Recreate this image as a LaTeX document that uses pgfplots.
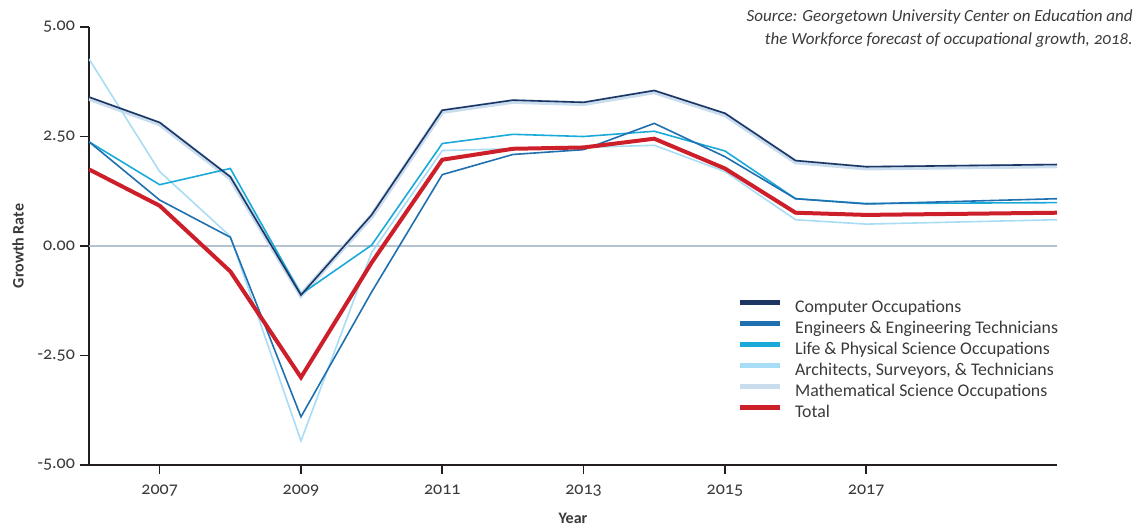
\documentclass[border=0pt]{standalone}
\usepackage{pgfplots}
\pgfplotsset{compat=1.18}
\usepackage{pgfplotstable}
\usepackage{fontspec}
\setmainfont{Carlito}[Numbers=OldStyle]

\definecolor{compcol}{HTML}{1C3563}
\definecolor{engcol}{HTML}{2070B0}
\definecolor{lifecol}{HTML}{1AAAD9}
\definecolor{archcol}{HTML}{A8DDF5}
\definecolor{mathcol}{HTML}{C9DDEE}
\definecolor{totcol}{HTML}{CC1F2A}
\definecolor{zerocol}{HTML}{B4C3CF}
\definecolor{axiscol}{HTML}{231F20}
\definecolor{txtcol}{HTML}{3A3A3A}

% growth rates
\pgfplotstableread{
year   comp  eng   life  arch  math  total
2006   3.40  2.38  2.38  4.27  3.37  1.75
2007   2.82  1.05  1.40  1.70  2.79  0.92
2008   1.58  0.20  1.77  0.22  1.55  -0.58
2009   -1.12 -3.90 -1.10 -4.45 -1.12 -3.00
2010   0.71  -1.05 0.02  -0.15 0.68  -0.38
2011   3.10  1.63  2.34  2.18  3.07  1.97
2012   3.33  2.09  2.55  2.22  3.30  2.22
2013   3.28  2.20  2.50  2.25  3.25  2.25
2014   3.55  2.80  2.62  2.30  3.52  2.45
2015   3.03  2.04  2.17  1.70  3.00  1.77
2016   1.95  1.08  1.08  0.60  1.92  0.76
2017   1.81  0.96  0.97  0.50  1.78  0.71
2019.7 1.86  1.08  0.99  0.60  1.83  0.76
}\growth

\begin{document}
\begin{tikzpicture}
\begin{axis}[
    at={(0,0)}, anchor=south west,
    scale only axis,
    width=484pt, height=219pt,
    xmin=2006, xmax=2019.7,
    ymin=-5, ymax=5,
    axis x line*=bottom,
    axis y line*=left,
    axis line style={-, line width=1.1pt, color=axiscol},
    xtick={2007,2009,...,2017},
    ytick={-5,-2.5,0,2.5,5},
    tick align=outside,
    major tick length=4.5pt,
    tick style={line width=0.8pt, color=axiscol},
    /pgf/number format/assume math mode=true,
    x tick label style={/pgf/number format/set thousands separator={}, font=\fontsize{9}{10}\selectfont, text=txtcol},
    xticklabel shift=2pt,
    y tick label style={/pgf/number format/fixed, /pgf/number format/fixed zerofill, /pgf/number format/precision=2, font=\fontsize{9}{10}\selectfont, text=txtcol},
    yticklabel shift=-1pt,
    extra y ticks={0},
    extra y tick labels={},
    extra y tick style={grid=major, major grid style={line width=1pt, color=zerocol}, major tick length=0pt},
    xlabel={Year},
    ylabel={Growth Rate},
    xlabel style={at={(axis description cs:0.5,-0.121)}, anchor=center, font=\bfseries\fontsize{8}{9}\selectfont, text=txtcol},
    ylabel style={at={(axis description cs:-0.0733,0.5)}, anchor=center, font=\bfseries\fontsize{8}{9}\selectfont, text=txtcol},
    legend style={at={(axis description cs:0.6695,0.381)}, anchor=north west, draw=none, fill=none,
        inner sep=0pt, row sep=1.5pt, font=\fontsize{8.9}{10}\selectfont, text=txtcol,
        nodes={inner sep=0pt, text height=7pt, text depth=2pt}},
    legend cell align=left,
    legend image code/.code={\draw[#1, line width=2.2pt] (0pt,2.5pt) -- (20pt,2.5pt);
        \path (27.5pt,2.5pt);},
]
% mathematical science sits right under the computer line
\addplot[mathcol, line width=2.4pt, forget plot] table[x=year, y=math] {\growth};
\addplot[archcol, line width=0.8pt, forget plot] table[x=year, y=arch] {\growth};
\addplot[lifecol, line width=0.8pt, forget plot] table[x=year, y=life] {\growth};
\addplot[engcol, line width=0.8pt, forget plot] table[x=year, y=eng] {\growth};
\addplot[compcol, line width=0.8pt, forget plot] table[x=year, y=comp] {\growth};
\addplot[totcol, line width=2pt, forget plot] table[x=year, y=total] {\growth};

\addlegendimage{compcol}
\addlegendentry{Computer Occupations}
\addlegendimage{engcol}
\addlegendentry{Engineers \& Engineering Technicians}
\addlegendimage{lifecol}
\addlegendentry{Life \& Physical Science Occupations}
\addlegendimage{archcol}
\addlegendentry{Architects, Surveyors, \& Technicians}
\addlegendimage{mathcol}
\addlegendentry{Mathematical Science Occupations}
\addlegendimage{totcol}
\addlegendentry{Total}
\end{axis}
\node[anchor=north east, align=right, inner sep=0pt, text=txtcol,
      font=\itshape\fontsize{8.5}{11.5}\selectfont] at (522pt,228pt)
    {Source: Georgetown University Center on Education and\\
     the Workforce forecast of occupational growth, 2018.};
\pgfresetboundingbox
\path[use as bounding box] (-44.5pt,-31pt) rectangle (526.5pt,232.5pt);
\end{tikzpicture}
\end{document}
